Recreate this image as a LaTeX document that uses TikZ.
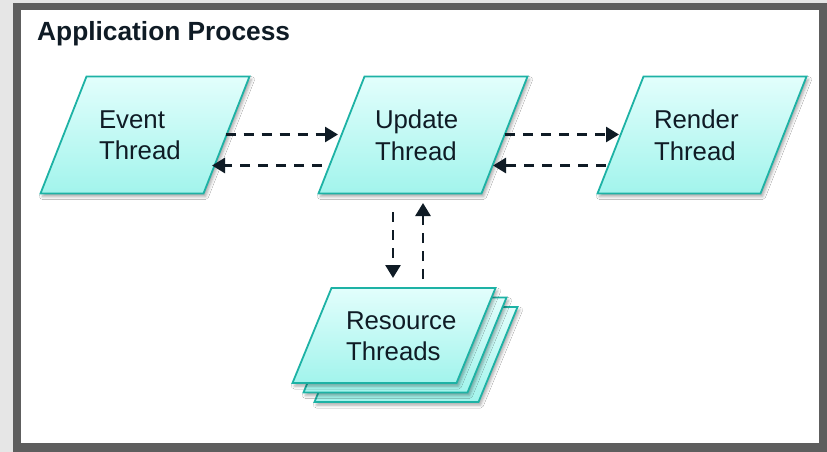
\documentclass[tikz,border=0pt]{standalone}
\usepackage{fontspec}
\setmainfont{Liberation Sans}
\usetikzlibrary{arrows.meta,calc,shadows.blur}

\definecolor{pagegray}{HTML}{E6E6E6}
\definecolor{framegray}{HTML}{5E5E5E}
\definecolor{tealedge}{HTML}{1DB2A5}
\definecolor{filltop}{HTML}{E2FEFC}
\definecolor{fillbot}{HTML}{A2F4EC}
\definecolor{inkdark}{HTML}{0F1B25}

\begin{document}
\begin{tikzpicture}[x=1pt,y=-1pt,
  para/.style={draw=tealedge, line width=1.8pt, line join=miter,
    top color=filltop, bottom color=fillbot,
    blur shadow={shadow xshift=2pt, shadow yshift=-3pt,
      shadow blur radius=3pt, shadow opacity=35}},
  lbl/.style={text=inkdark, font=\fontsize{25.8}{31.5}\selectfont,
    align=left, text width=96pt, inner sep=0pt},
  heading/.style={text=inkdark, font=\fontsize{26.3}{30}\selectfont\bfseries,
    inner sep=0pt, anchor=base west},
  flow/.style={draw=inkdark, line width=2.7pt, dash pattern=on 10pt off 8pt,
    -{Triangle[length=13pt,width=15pt]}},
  pics/bigpara/.style={code={
    \path[para] (-104.5,58.5) -- (-58.5,-58.5) -- (104.5,-58.5) -- (58.5,58.5) -- cycle;}},
  pics/smallpara/.style={code={
    \path[para] (-101.5,47.5) -- (-62.5,-47.5) -- (101.5,-47.5) -- (62.5,47.5) -- cycle;}}
]
\useasboundingbox (0,0) rectangle (827,452);

% page, frame and white panel
\fill[pagegray] (0,0) rectangle (827,452);
\fill[framegray] (13,3) rectangle (827,452);
\fill[white] (21,10) rectangle (819,443);

\node[heading] (title) at (37,41) {Application Process};

% centres of the thread shapes
\coordinate (eventc)  at (145,135);
\coordinate (updatec) at (423,135);
\coordinate (renderc) at (702,135);
\coordinate (resc)    at (394,335.5);

% parallelogram outlines
\pic at (eventc)  {bigpara};
\pic at (updatec) {bigpara};
\pic at (renderc) {bigpara};
\pic at ($(resc)+(22,19)$)  {smallpara};
\pic at ($(resc)+(11,9.5)$) {smallpara};
\pic at (resc)    {smallpara};

% labels
\node[lbl] (event)  at ($(eventc)+(2,0.5)$)  {Event\\Thread};
\node[lbl] (update) at ($(updatec)+(0,0.5)$) {Update\\Thread};
\node[lbl] (render) at ($(renderc)+(0,0.5)$) {Render\\Thread};
\node[lbl] (res)    at ($(resc)+(0,0.5)$)    {Resource\\Threads};

% message flows
\draw[flow] ($(event)+(78.5,-1)$)    -- ($(update)+(-85,-1)$);
\draw[flow] ($(update)+(-101,30)$)   -- ($(event)+(65,30)$);
\draw[flow] ($(update)+(82,-1)$)     -- ($(render)+(-83,-1)$);
\draw[flow] ($(render)+(-96,30)$)    -- ($(update)+(70,30)$);
\draw[flow] ($(update)+(-30,76.5)$)  -- ($(res)+(-1,-58)$);
\draw[flow] ($(res)+(29,-57)$)       -- ($(update)+(0,67.5)$);
\end{tikzpicture}
\end{document}
